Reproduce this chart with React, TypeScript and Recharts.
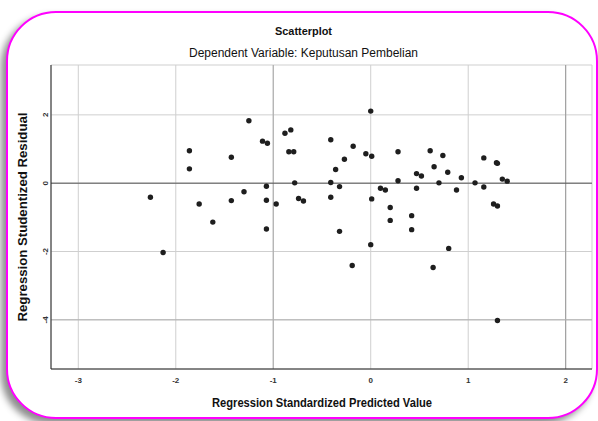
import { CartesianGrid, ReferenceLine, Scatter, ScatterChart, XAxis, YAxis } from "recharts";

// regression standardized predicted value
const predicted = [
  -2.26, -2.13, -1.86, -1.86, -1.76, -1.62, -1.43, -1.43, -1.3, -1.25, -1.11, -1.06, -1.07, -1.07,
  -0.97, -1.07, -0.88, -0.82, -0.84, -0.79, -0.78, -0.74, -0.69, -0.41, -0.27, -0.36, -0.41, -0.32,
  -0.41, -0.32, -0.19, -0.18, -0.05, 0.01, 0.0, 0.01, 0.0, 0.1, 0.15, 0.2, 0.2, 0.28, 0.28, 0.42,
  0.42, 0.47, 0.52, 0.47, 0.61, 0.65, 0.7, 0.74, 0.79, 0.88, 0.93, 1.07, 1.16, 1.16, 1.29, 1.3, 1.35,
  1.4, 1.26, 1.3, 0.64, 0.8, 1.3,
];

// regression studentized residual
const residual = [
  -0.41, -2.03, 0.42, 0.95, -0.61, -1.14, 0.76, -0.51, -0.25, 1.83, 1.23, 1.17, -0.09, -0.5, -0.61,
  -1.34, 1.46, 1.56, 0.92, 0.92, 0.01, -0.45, -0.52, 1.27, 0.7, 0.4, 0.02, -0.1, -0.41, -1.41, -2.41,
  1.08, 0.86, 0.79, 2.11, -0.46, -1.8, -0.15, -0.2, -0.71, -1.09, 0.92, 0.07, -0.95, -1.36, 0.28,
  0.21, -0.15, 0.95, 0.48, 0.01, 0.81, 0.32, -0.2, 0.16, 0.01, 0.74, -0.11, 0.6, 0.58, 0.12, 0.06,
  -0.61, -0.67, -2.47, -1.91, -4.02,
];

const xTicks = [-3, -2, -1, 0, 1, 2];
const yTicks = [-4, -2, 0, 2];

const points = predicted.map((x, i) => ({ x, y: residual[i] }));

const font = '"Liberation Sans", Arial, sans-serif';

const XTick = ({ x, y, payload }: any) => (
  <text x={x} y={y + 14} textAnchor="middle" fontSize={8} fontWeight="bold" fill="#333" fontFamily={font}>
    {payload.value}
  </text>
);

const YTick = ({ x, y, payload }: any) => (
  <text
    x={x - 3}
    y={y}
    textAnchor="middle"
    fontSize={8}
    fontWeight="bold"
    fill="#333"
    fontFamily={font}
    transform={`rotate(-90 ${x - 3} ${y})`}
  >
    {payload.value}
  </text>
);

const Dot = ({ cx, cy }: any) => <circle cx={cx} cy={cy} r={2.7} fill="#1e1e1e" />;

export default function App() {
  return (
    <div style={{ position: "fixed", left: 0, top: 0, width: 598, height: 421, background: "#fff", overflow: "hidden" }}>
      <div
        style={{
          position: "absolute",
          left: 6,
          top: 11,
          width: 592,
          height: 408,
          boxSizing: "border-box",
          border: "2px solid #ff00ff",
          borderRadius: 50,
          background: "#fff",
          boxShadow: "-5px 5px 7px rgba(0,0,0,0.45)",
        }}
      />
      <div style={{ position: "absolute", left: 0, top: 0 }}>
        <ScatterChart width={598} height={421} margin={{ top: 65, right: 6, bottom: 51, left: 50 }}>
          <CartesianGrid stroke="#cfcfcf" strokeWidth={1} />
          <XAxis
            type="number"
            dataKey="x"
            domain={[-3.28, 2.27]}
            ticks={xTicks}
            height={1}
            tickSize={0}
            tickMargin={0}
            tickLine={false}
            axisLine={{ stroke: "#222" }}
            tick={<XTick />}
            allowDataOverflow
          />
          <YAxis
            type="number"
            dataKey="y"
            domain={[-5.44, 3.46]}
            ticks={yTicks}
            width={1}
            tickSize={0}
            tickMargin={0}
            tickLine={false}
            axisLine={{ stroke: "#222" }}
            tick={<YTick />}
            allowDataOverflow
          />
          <ReferenceLine x={-1} stroke="#a8a8a8" />
          <ReferenceLine x={2} stroke="#999" />
          <ReferenceLine y={-4} stroke="#b0b0b0" />
          <ReferenceLine y={0} stroke="#555" />
          <Scatter data={points} shape={<Dot />} isAnimationActive={false} />
        </ScatterChart>
      </div>
      <svg width={598} height={421} style={{ position: "absolute", left: 0, top: 0, pointerEvents: "none" }}>
        <g fontFamily={font} fill="#111">
          <text x={303.5} y={35} textAnchor="middle" fontSize={11} fontWeight="bold" textLength={57} lengthAdjust="spacingAndGlyphs">
            Scatterplot
          </text>
          <text x={303.5} y={57} textAnchor="middle" fontSize={12} textLength={229} lengthAdjust="spacingAndGlyphs">
            Dependent Variable: Keputusan Pembelian
          </text>
          <text x={322} y={407} textAnchor="middle" fontSize={12} fontWeight="bold" textLength={220} lengthAdjust="spacingAndGlyphs">
            Regression Standardized Predicted Value
          </text>
          <text
            x={0}
            y={0}
            textAnchor="middle"
            fontSize={12}
            fontWeight="bold"
            textLength={209}
            lengthAdjust="spacingAndGlyphs"
            transform="translate(27 217) rotate(-90)"
          >
            Regression Studentized Residual
          </text>
        </g>
      </svg>
    </div>
  );
}
